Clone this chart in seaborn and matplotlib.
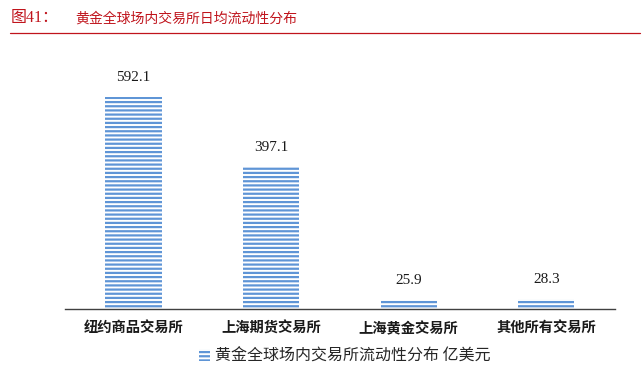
import matplotlib
matplotlib.use("Agg")
import matplotlib.pyplot as plt
import seaborn as sns
import pandas as pd
from matplotlib.patches import Patch
from matplotlib.lines import Line2D

categories = ["纽约商品交易所", "上海期货交易所", "上海黄金交易所", "其他所有交易所"]
values = [592.1, 397.1, 25.9, 28.3]
value_labels = ["592.1", "397.1", "25.9", "28.3"]
series_name = "黄金全球场内交易所流动性分布 亿美元"
title_num = "图41："
title_text = "黄金全球场内交易所日均流动性分布"

sns.set_theme(style="white")
plt.rcParams['font.family'] = ['Noto Sans CJK SC', 'DejaVu Sans']
plt.rcParams['hatch.linewidth'] = 1.6

blue = "#5f95d6"
red = "#c0141c"

df = pd.DataFrame({"cat": categories, "val": values})

fig = plt.figure(figsize=(6.42, 3.77), dpi=100)
ax = fig.add_axes([0.101, 0.180, 0.857, 0.666])
sns.barplot(data=df, x="cat", y="val", ax=ax, color="white", width=0.41)
for p in ax.patches:
    p.set_facecolor("white")
    p.set_edgecolor(blue)
    p.set_linewidth(0)
    p.set_hatch("----")

ax.set_ylim(0, 700)
ax.set_xlim(-0.5, 3.5)
for s in ["top", "right", "left"]:
    ax.spines[s].set_visible(False)
ax.spines["bottom"].set_color("#404040")
ax.spines["bottom"].set_linewidth(1.0)
ax.set_yticks([])
ax.set_xlabel("")
ax.set_ylabel("")
ax.tick_params(axis="x", length=0, pad=9)
for lbl in ax.get_xticklabels():
    lbl.set_fontsize(10.3)
    lbl.set_fontweight("bold")
    lbl.set_color("#1a1a1a")

for i, (v, t) in enumerate(zip(values, value_labels)):
    ax.annotate(t, (i, v), xytext=(0, 9), textcoords="offset points",
                ha="center", va="bottom", fontsize=11,
                family="Liberation Serif", color="#1a1a1a")

fig.text(0.016, 0.951, title_num, color=red, fontsize=11.5, va="center",
         family=["Liberation Serif", "Noto Sans CJK SC"])
fig.text(0.117, 0.951, title_text, color=red, fontsize=10, va="center")
fig.add_artist(Line2D([0.016, 0.997], [0.912, 0.912], color=red, lw=0.9,
                      transform=fig.transFigure))

handle = Patch(facecolor="white", edgecolor=blue, hatch="----", linewidth=0)
fig.legend([handle], [series_name], loc="center", bbox_to_anchor=(0.537, 0.055),
           frameon=False, fontsize=11.5, handlelength=0.65, handleheight=0.75,
           handletextpad=0.3)

fig.savefig("out.png", dpi=100)
